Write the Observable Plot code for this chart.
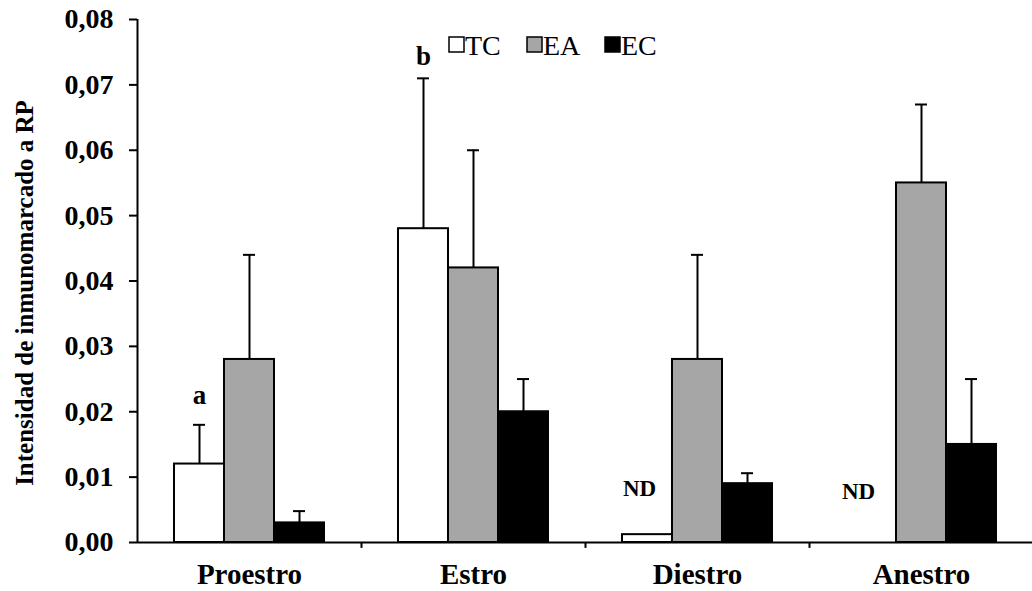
<!DOCTYPE html>
<html>
<head>
<meta charset="utf-8">
<script src="https://cdn.jsdelivr.net/npm/d3@7"></script>
<script src="https://cdn.jsdelivr.net/npm/@observablehq/plot@0.6"></script>
<style>
  html, body { margin: 0; padding: 0; background: #fff; }
  #chart { width: 1032px; height: 591px; overflow: hidden; position: relative; }
</style>
</head>
<body>
<div id="chart"></div>
<script>
const groups = ["Proestro", "Estro", "Diestro", "Anestro"];
const series = ["TC", "EA", "EC"];
const fills = ["#ffffff", "#a6a6a6", "#000000"];
const TC = [0.012, 0.048, 0.0012, 0];
const TC_err = [0.018, 0.071, null, null];
const EA = [0.028, 0.042, 0.028, 0.055];
const EA_err = [0.044, 0.060, 0.044, 0.067];
const EC = [0.003, 0.020, 0.009, 0.015];
const EC_err = [0.0048, 0.025, 0.0106, 0.025];
const yTicks = [0, 0.01, 0.02, 0.03, 0.04, 0.05, 0.06, 0.07, 0.08];
const annotations = [
  {group: "Proestro", series: "TC", y: 0.0225, text: "a"},
  {group: "Estro", series: "TC", y: 0.0743, text: "b"},
  {group: "Diestro", series: "TC", y: 0.0083, text: "ND"},
  {group: "Anestro", series: "TC", y: 0.0078, text: "ND"}
];
const annotationShift = {a: 0, b: 0, ND0: -8, ND1: -13};

const valuesBySeries = {TC, EA, EC};
const errBySeries = {TC: TC_err, EA: EA_err, EC: EC_err};

const X0 = 137, X1 = 1033;
const step = (X1 - X0) / groups.length;
const barW = 50;
const offsets = {TC: -barW, EA: 0, EC: barW};
const inset = (step - barW) / 2;
const capW = 12;
const capInset = (step - capW) / 2;

const font = "Liberation Serif";

const marks = [];
series.forEach((s, si) => {
  const rows = groups.map((g, i) => ({group: g, value: valuesBySeries[s][i], err: errBySeries[s][i]}));
  const withErr = rows.filter(d => d.err != null);
  marks.push(Plot.ruleX(withErr, {x: "group", y1: "value", y2: "err", dx: offsets[s], stroke: "#000", strokeWidth: 2}));
  marks.push(Plot.tickY(withErr, {x: "group", y: "err", dx: offsets[s], insetLeft: capInset, insetRight: capInset, stroke: "#000", strokeWidth: 2}));
  marks.push(Plot.barY(rows.filter(d => d.value > 0), {x: "group", y: "value", dx: offsets[s], insetLeft: inset, insetRight: inset, fill: fills[si], stroke: "#000", strokeWidth: 2}));
});

let ndCount = 0;
annotations.forEach(a => {
  const key = a.text === "ND" ? "ND" + (ndCount++) : a.text;
  marks.push(Plot.text([a], {x: "group", y: "y", text: "text", dx: offsets[a.series] + annotationShift[key], fontWeight: "bold", fontSize: a.text === "ND" ? 23 : 27, fill: "#000"}));
});

// x axis line and group-boundary ticks
marks.push(Plot.ruleY([0], {stroke: "#000", strokeWidth: 2}));
marks.push(Plot.ruleX(groups.slice(0, groups.length - 1), {x: d => d, dx: step / 2, y1: 0, y2: -0.0009, stroke: "#000", strokeWidth: 2}));
// y axis line
marks.push(Plot.ruleX([groups[0]], {dx: -step / 2, y1: 0, y2: 0.08, stroke: "#000", strokeWidth: 2}));

marks.push(Plot.axisY({ticks: yTicks, tickFormat: d => d3.format(".2f")(d).replace(".", ","), tickSize: 8, tickPadding: 16, fontSize: 28, fontWeight: "bold", strokeWidth: 2, label: null}));
marks.push(Plot.axisX({tickSize: 0, tickPadding: 21, fontSize: 29, fontWeight: "bold", label: null}));

const chart = Plot.plot({
  width: 1032,
  height: 591,
  marginLeft: X0,
  marginRight: 1032 - X1,
  marginTop: 19,
  marginBottom: 49,
  style: {fontFamily: font, color: "#000", background: "#fff", overflow: "visible"},
  x: {domain: groups, padding: 0, axis: null},
  y: {domain: [0, 0.08], axis: null},
  marks
});

const root = document.getElementById("chart");
root.appendChild(chart);

const svg = d3.select(chart);
// y-axis title
svg.append("text")
  .attr("transform", `translate(24, 293) rotate(-90)`)
  .attr("text-anchor", "middle")
  .attr("dominant-baseline", "central")
  .attr("font-family", font)
  .attr("font-size", 25)
  .attr("font-weight", "bold")
  .text("Intensidad de inmunomarcado a RP");

// legend
const legend = svg.append("g").attr("transform", "translate(449, 44.5)");
let lx = 0;
series.forEach((s, i) => {
  legend.append("rect").attr("x", lx).attr("y", -7.5).attr("width", 15).attr("height", 15)
    .attr("fill", fills[i]).attr("stroke", "#000").attr("stroke-width", 1.5);
  legend.append("text").attr("x", lx + 16).attr("y", 1).attr("text-anchor", "start").attr("dominant-baseline", "central")
    .attr("font-family", font).attr("font-size", 28).text(s);
  lx += 78;
});
</script>
</body>
</html>
